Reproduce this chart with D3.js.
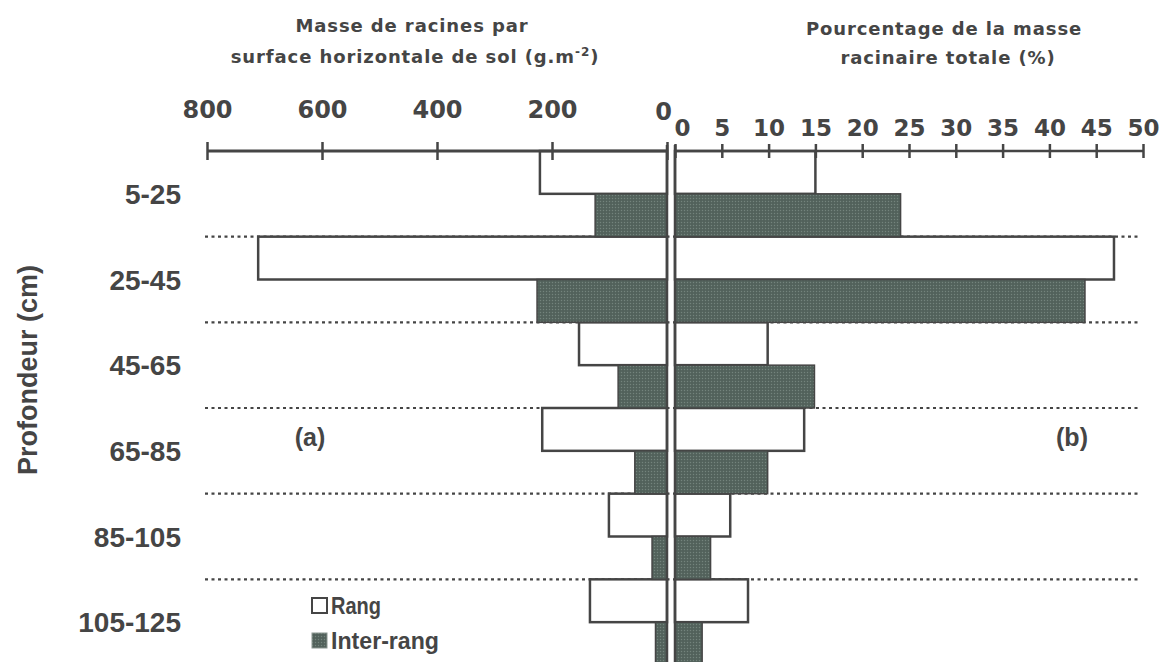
<!DOCTYPE html>
<html><head><meta charset="utf-8">
<script src="https://cdn.jsdelivr.net/npm/d3@7"></script>
<style>
html,body{margin:0;padding:0;background:#fff;}
svg{display:block;}
</style></head>
<body>
<script>
const categories = ["5-25","25-45","45-65","65-85","85-105","105-125"];
const rangMass   = [221, 711, 153, 217, 101, 134];
const interMass  = [125, 226, 85, 56, 26, 20];
const rangPct    = [15.0, 46.9, 9.9, 13.8, 5.9, 7.8];
const interPct   = [24.1, 43.8, 14.9, 9.9, 3.8, 2.9];
const massTicks  = [800, 600, 400, 200, 0];
const pctTicks   = [0, 5, 10, 15, 20, 25, 30, 35, 40, 45, 50];
const seriesNames = ["Rang", "Inter-rang"];

const W = 1162, H = 662;
const ink = "#454545";
const svg = d3.select("body").append("svg").attr("width", W).attr("height", H);

const defs = svg.append("defs");
const pat = defs.append("pattern").attr("id","dots").attr("width",3).attr("height",3).attr("patternUnits","userSpaceOnUse");
pat.append("rect").attr("width",3).attr("height",3).attr("fill","#56665f");
pat.append("rect").attr("width",1).attr("height",1).attr("fill","#74837d");
pat.append("rect").attr("x",1.5).attr("y",1.5).attr("width",1).attr("height",1).attr("fill","#45524d");

const axisY = 151;
const xL = d3.scaleLinear().domain([0, 800]).range([667, 207]);
const xR = d3.scaleLinear().domain([0, 50]).range([675, 1143]);
const y = d3.scaleBand().domain(categories).range([axisY, 665]).paddingInner(0).paddingOuter(0);
const half = y.bandwidth() / 2;

// dotted separators
const seps = categories.slice(1);
svg.append("g").selectAll("line").data(seps).join("line")
  .attr("x1", 205).attr("x2", 1140)
  .attr("y1", d => y(d)).attr("y2", d => y(d))
  .attr("stroke", ink).attr("stroke-width", 2.2).attr("stroke-dasharray", "3,3.5");

const rows = categories.map((c, i) => ({c, rm: rangMass[i], im: interMass[i], rp: rangPct[i], ip: interPct[i]}));

const bars = svg.append("g");
// left: mass
bars.selectAll(".lr").data(rows).join("rect").attr("class","lr")
  .attr("x", d => xL(d.rm)).attr("width", d => xL(0) - xL(d.rm))
  .attr("y", d => y(d.c)).attr("height", half)
  .attr("fill", "#fff").attr("stroke", ink).attr("stroke-width", 2.5);
bars.selectAll(".li").data(rows).join("rect").attr("class","li")
  .attr("x", d => xL(d.im)).attr("width", d => xL(0) - xL(d.im))
  .attr("y", d => y(d.c) + half).attr("height", half)
  .attr("fill", "url(#dots)").attr("stroke", ink).attr("stroke-width", 1.5);
// right: percent
bars.selectAll(".rr").data(rows).join("rect").attr("class","rr")
  .attr("x", xR(0)).attr("width", d => xR(d.rp) - xR(0))
  .attr("y", d => y(d.c)).attr("height", half)
  .attr("fill", "#fff").attr("stroke", ink).attr("stroke-width", 2.5);
bars.selectAll(".ri").data(rows).join("rect").attr("class","ri")
  .attr("x", xR(0)).attr("width", d => xR(d.ip) - xR(0))
  .attr("y", d => y(d.c) + half).attr("height", half)
  .attr("fill", "url(#dots)").attr("stroke", ink).attr("stroke-width", 1.5);

// zero lines
svg.append("g").selectAll("line").data([xL(0), xR(0)]).join("line")
  .attr("x1", d => d).attr("x2", d => d).attr("y1", axisY - 6).attr("y2", H)
  .attr("stroke", ink).attr("stroke-width", 2.5);

// top axes
const gL = svg.append("g").attr("transform", `translate(0,${axisY})`)
  .call(d3.axisTop(xL).tickValues(massTicks).tickSize(9).tickPadding(24).tickFormat(d3.format("d")));
gL.select(".domain").attr("stroke", ink).attr("stroke-width", 3).attr("d", `M${xL(800)},0H${xL(0)}`);
gL.selectAll(".tick line").attr("stroke", ink).attr("stroke-width", 2.5).attr("y1", 9).attr("y2", -9);
gL.selectAll(".tick text").attr("fill", ink).attr("font-family", "DejaVu Sans").attr("font-weight", "bold").attr("font-size", 24);
gL.selectAll(".tick").filter(d => d === 0).select("text").attr("dx", -4).attr("dy", 2);

const gR = svg.append("g").attr("transform", `translate(0,${axisY})`)
  .call(d3.axisTop(xR).tickValues(pctTicks).tickSize(7).tickPadding(8).tickFormat(d3.format("d")));
gR.select(".domain").attr("stroke", ink).attr("stroke-width", 2.5).attr("d", `M${xR(0)},0H${xR(50)}`);
gR.selectAll(".tick line").attr("stroke", ink).attr("stroke-width", 2.5).attr("y1", 7).attr("y2", -7);
gR.selectAll(".tick text").attr("fill", ink).attr("font-family", "DejaVu Sans").attr("font-weight", "bold").attr("font-size", 23);
gR.selectAll(".tick").filter(d => d === 0).select("text").attr("dx", 7);

// titles
const tstyle = s => s.attr("fill", ink).attr("font-family", "DejaVu Sans").attr("font-weight", "bold").attr("font-size", 18).attr("letter-spacing", 0.9).attr("text-anchor", "middle");
svg.append("text").attr("x", 412).attr("y", 32).text("Masse de racines par").call(tstyle);
const t2 = svg.append("text").attr("x", 415).attr("y", 63).call(tstyle);
t2.append("tspan").text("surface horizontale de sol (g.m");
t2.append("tspan").attr("dy", -7).attr("font-size", 12).text("-2");
t2.append("tspan").attr("dy", 7).text(")");
svg.append("text").attr("x", 944).attr("y", 35).text("Pourcentage de la masse").call(tstyle);
svg.append("text").attr("x", 948).attr("y", 64).text("racinaire totale (%)").call(tstyle);

// category labels
svg.append("g").selectAll("text").data(categories).join("text")
  .attr("x", 181).attr("y", d => y(d) + half).attr("dy", "0.36em")
  .attr("text-anchor", "end").attr("fill", ink)
  .attr("font-family", "Liberation Sans, Arial, sans-serif").attr("font-weight", "bold").attr("font-size", 28)
  .text(d => d);

// y title
svg.append("text").attr("transform", "translate(37,370) rotate(-90)")
  .attr("text-anchor", "middle").attr("fill", ink)
  .attr("font-family", "Liberation Sans, Arial, sans-serif").attr("font-weight", "bold").attr("font-size", 27)
  .text("Profondeur (cm)");

// panel labels
svg.append("text").attr("x", 310).attr("y", 446).attr("text-anchor", "middle").attr("fill", ink)
  .attr("font-family", "Liberation Sans, Arial, sans-serif").attr("font-weight", "bold").attr("font-size", 25).text("(a)");
svg.append("text").attr("x", 1072).attr("y", 446).attr("text-anchor", "middle").attr("fill", ink)
  .attr("font-family", "Liberation Sans, Arial, sans-serif").attr("font-weight", "bold").attr("font-size", 25).text("(b)");

// legend
const leg = svg.append("g");
const legItems = seriesNames.map((n, i) => ({n, i}));
leg.selectAll("rect").data(legItems).join("rect")
  .attr("x", 312).attr("y", d => 598 + d.i * 35).attr("width", 15).attr("height", 15)
  .attr("fill", d => d.i === 0 ? "#fff" : "url(#dots)")
  .attr("stroke", d => d.i === 0 ? ink : "#8a9590").attr("stroke-width", d => d.i === 0 ? 2 : 1);
leg.selectAll("text").data(legItems).join("text")
  .attr("x", 331).attr("y", d => 614 + d.i * 35).attr("fill", ink)
  .attr("font-family", "Liberation Sans Narrow, Liberation Sans, Arial, sans-serif").attr("font-weight", "bold").attr("font-size", 24)
  .attr("textLength", d => d.i === 0 ? 50 : 108).attr("lengthAdjust", "spacingAndGlyphs")
  .text(d => d.n);
</script>
</body></html>
